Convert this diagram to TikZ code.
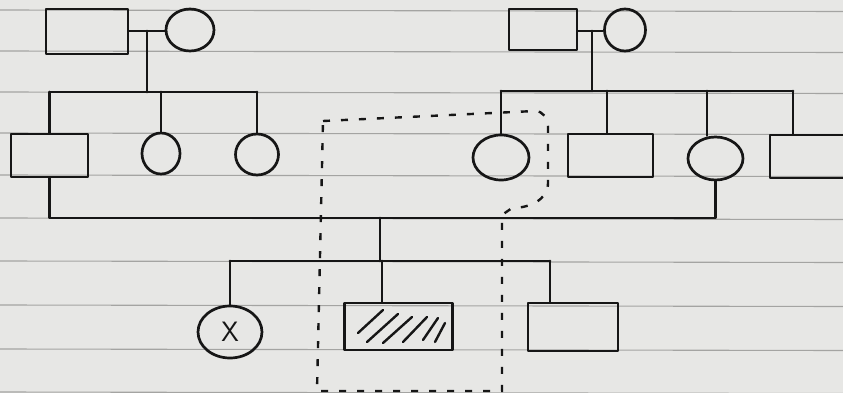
\documentclass[tikz,border=0pt]{standalone}
\usetikzlibrary{shapes.geometric}
\definecolor{paper}{HTML}{E7E7E5}
\definecolor{rule}{HTML}{A4A4A2}
\definecolor{ink}{HTML}{161616}
\tikzset{
  ink/.style={draw=ink, line width=2.7pt, line cap=round, line join=round},
  male/.style={ink, rectangle, inner sep=0pt},
  female/.style={ink, ellipse, inner sep=0pt},
  conn/.style={ink},
  dashbox/.style={draw=ink, line width=2.4pt, dash pattern=on 7pt off 11pt},
  ruled/.style={draw=rule, line width=1.1pt}
}
\begin{document}
\begin{tikzpicture}[x=1pt,y=-1pt]
\useasboundingbox (0,0) rectangle (843,393);
\fill[paper] (0,0) rectangle (843,393);
\clip (0,0) rectangle (843,393);
% ruled paper lines
\foreach \yy in {10,51,92,133,175,218,261,305,349,392}
  \draw[ruled] (0,\yy) -- (843,\yy+1.5);

% generation I
\node[male, minimum width=82pt, minimum height=45pt] (gf1) at (87,31.5) {};
\node[female, minimum width=48pt, minimum height=42pt] (gm1) at (190,30) {};
\node[male, minimum width=68pt, minimum height=41pt] (gf2) at (543,29.5) {};
\node[female, minimum width=41pt, minimum height=42pt] (gm2) at (625,30) {};

% generation II
\node[male, minimum width=77pt, minimum height=43pt] (a1) at (49.5,155.5) {};
\node[female, minimum width=38pt, minimum height=41pt] (a2) at (161,153.5) {};
\node[female, minimum width=43pt, minimum height=41pt] (a3) at (257,154.5) {};
\node[female, minimum width=56pt, minimum height=45pt] (b1) at (501,157.5) {};
\node[male, minimum width=85pt, minimum height=43pt] (b2) at (610.5,155.5) {};
\node[female, minimum width=55pt, minimum height=43pt] (b3) at (715.5,158.5) {};
\node[male, minimum width=90pt, minimum height=43pt] (b4) at (815,156.5) {};

% generation III
\node[female, minimum width=64pt, minimum height=52pt,
      font=\sffamily\fontsize{28}{28}\selectfont, text=ink] (c1) at (230,332) {X};
\node[male, minimum width=108pt, minimum height=47pt] (c2) at (398.5,326.5) {};
\node[male, minimum width=90pt, minimum height=48pt] (c3) at (573,327) {};

% hatching of affected individual
\foreach \xa/\ya/\xb/\yb in {358/333/383/310, 367/342/398/314, 383/343/412/317,
                             403/342/427/317, 423/340/438/318, 435/342/445/323}
  \draw[ink, line width=2.4pt] (\xa,\ya) -- (\xb,\yb);

% left family
\coordinate (m1) at (147,31);
\coordinate (s1) at (147,92);
\draw[conn] (gf1.east |- m1) -- (gm1.west |- m1);
\draw[conn] (m1) -- (s1);
\draw[conn] (s1 -| a1.north) -- (s1 -| a3.north);
\draw[conn] (s1 -| a1.north) -- (a1.north);
\draw[conn] (s1 -| a2.north) -- (a2.north);
\draw[conn] (s1 -| a3.north) -- (a3.north);

% right family
\coordinate (m2) at (592,31);
\coordinate (s2) at (592,91);
\coordinate (db2) at (607,91);
\coordinate (db3) at (707,91);
\coordinate (db4) at (793,91);
\draw[conn] (gf2.east |- m2) -- (gm2.west |- m2);
\draw[conn] (m2) -- (s2);
\draw[conn] (s2 -| b1.north) -- (db4);
\draw[conn] (s2 -| b1.north) -- (b1.north);
\draw[conn] (db2) -- (db2 |- b2.north);
\draw[conn] (db3) -- (db3 |- b3.north);
\draw[conn] (db4) -- (db4 |- b4.north);

% marriage of generation II
\coordinate (cpl) at (380,218);
\coordinate (s3) at (380,261);
\draw[conn] (a1.south) -- (a1.south |- cpl) -- (b3.south |- cpl) -- (b3.south);
\draw[conn] (cpl) -- (s3);
\coordinate (dc2) at (382,261);
\coordinate (dc3) at (550,261);
\draw[conn] (s3 -| c1.north) -- (dc3);
\draw[conn] (s3 -| c1.north) -- (c1.north);
\draw[conn] (dc2) -- (dc2 |- c2.north);
\draw[conn] (dc3) -- (dc3 |- c3.north);

% dashed outline
\draw[dashbox] (323,121) -- (535,111) to[out=0,in=90] (548,126) -- (548,183)
  to[out=-90,in=0] (512,208) -- (502,215) -- (502,391) -- (317,391) -- cycle;
\end{tikzpicture}
\end{document}
